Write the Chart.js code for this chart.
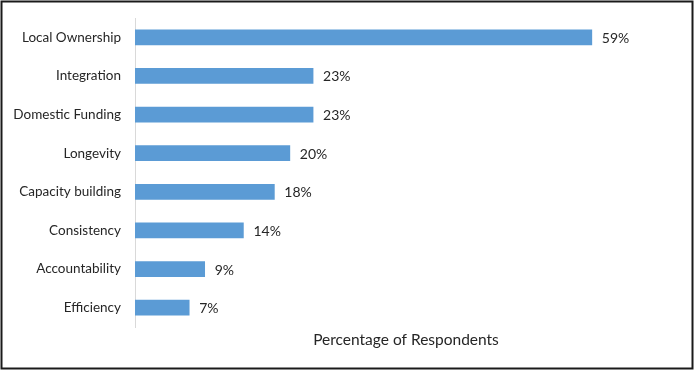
<!DOCTYPE html>
<html>
<head>
<meta charset="utf-8">
<script src="https://cdn.jsdelivr.net/npm/chart.js@4/dist/chart.umd.min.js"></script>
<style>
html,body{margin:0;padding:0;background:#fff;}
#wrap{position:absolute;left:0;top:0;width:696px;height:372px;}
</style>
</head>
<body>
<div id="wrap"><canvas id="c" width="696" height="372"></canvas></div>
<script>
const categories = ["Local Ownership","Integration","Domestic Funding","Longevity","Capacity building","Consistency","Accountability","Efficiency"];
const values = [59,23,23,20,18,14,9,7];
const axisTitle = "Percentage of Respondents";
const FONT = "Lato, 'Liberation Sans', sans-serif";
const TEXT = "#262626";

const frame = {
  id:'frame',
  afterDraw(chart){
    const ctx = chart.ctx;
    ctx.save();
    ctx.strokeStyle = '#1a1a1a';
    ctx.lineWidth = 2;
    ctx.strokeRect(1.5,1.5,691,367);
    ctx.restore();
  }
};
const valueLabels = {
  id:'valueLabels',
  afterDatasetsDraw(chart){
    const ctx = chart.ctx;
    const meta = chart.getDatasetMeta(0);
    ctx.save();
    ctx.font = "14px " + FONT;
    ctx.fillStyle = TEXT;
    ctx.textAlign = 'left';
    ctx.textBaseline = 'middle';
    meta.data.forEach((bar,i)=>{
      ctx.fillText(values[i] + '%', bar.x + 10, bar.y + 1);
    });
    ctx.restore();
  }
};

new Chart(document.getElementById('c'), {
  type:'bar',
  data:{labels:categories, datasets:[{data:values, backgroundColor:'#5b9bd5', borderWidth:0, barThickness:15}]},
  options:{
    indexAxis:'y',
    responsive:false,
    animation:false,
    layout:{padding:{left:0,top:18,right:19,bottom:0}},
    plugins:{legend:{display:false}, tooltip:{enabled:false}},
    scales:{
      x:{
        min:0,max:70,
        grid:{display:false, drawTicks:false},
        border:{display:false},
        ticks:{display:false},
        title:{display:true, text:axisTitle, color:TEXT, font:{family:FONT, size:15.5}, padding:{top:0,bottom:23}},
        afterFit(s){ s.height = 45; s.paddingLeft = 0; s.paddingRight = 0; }
      },
      y:{
        grid:{display:false, drawTicks:false},
        border:{display:true, color:'#d9d9d9', width:1},
        ticks:{color:TEXT, font:{family:FONT, size:13.5}, padding:14},
        afterFit(s){ s.width = 135; s.paddingTop = 0; s.paddingBottom = 0; }
      }
    }
  },
  plugins:[valueLabels, frame]
});
</script>
</body>
</html>
